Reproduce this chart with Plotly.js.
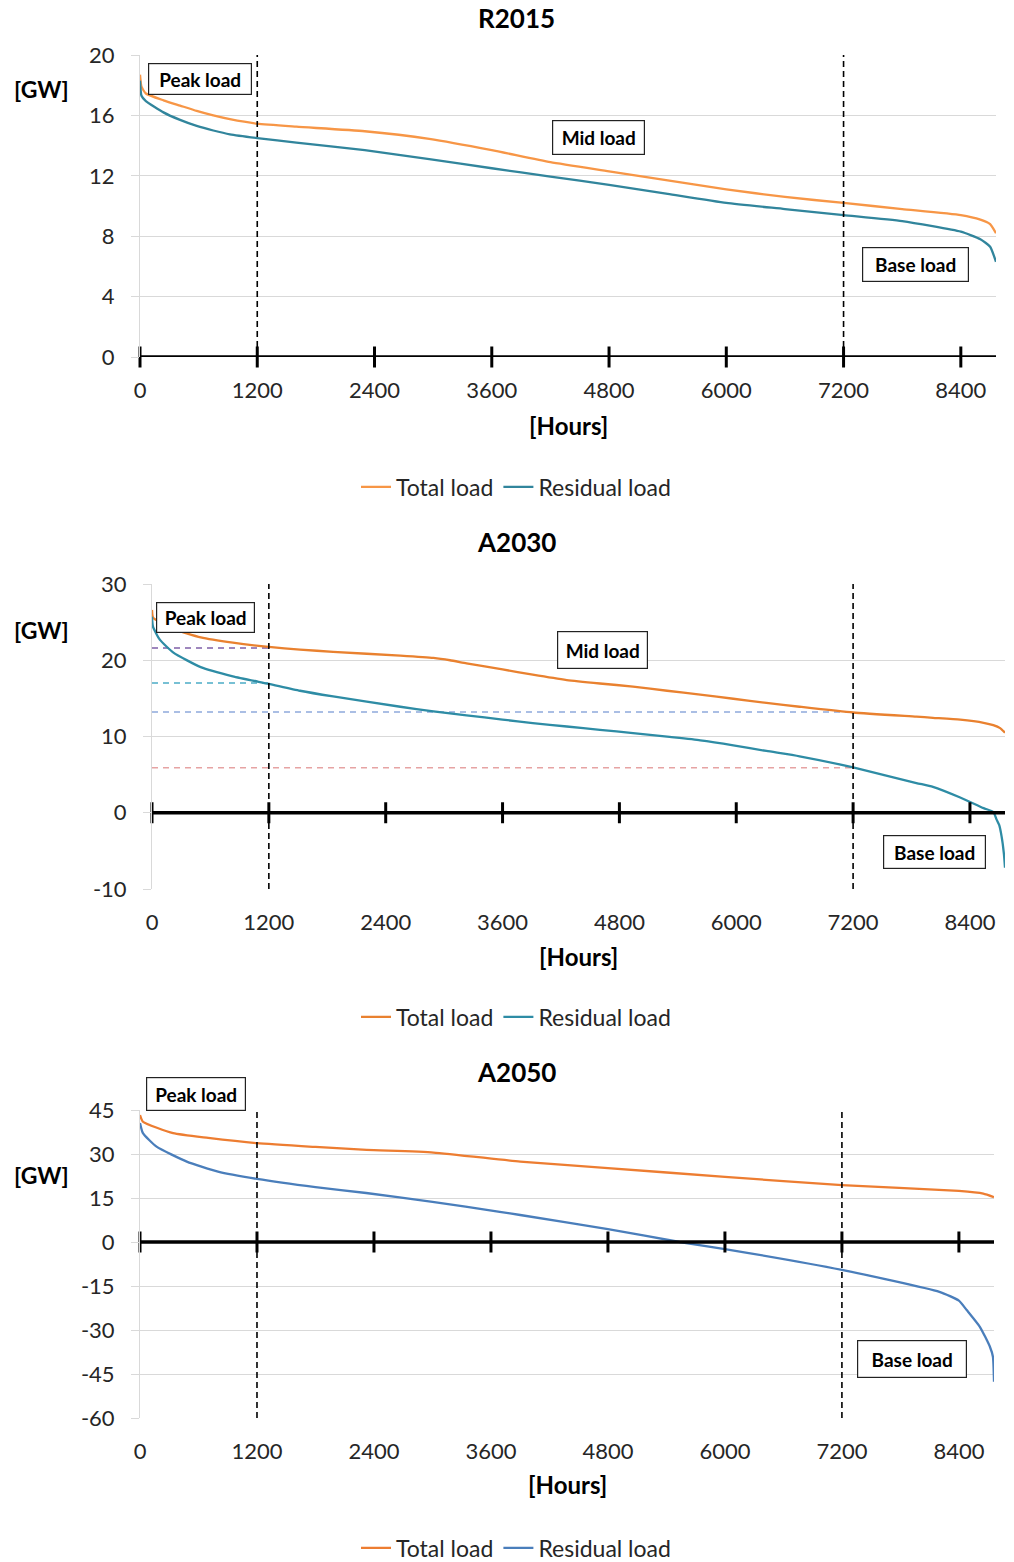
<!DOCTYPE html>
<html>
<head>
<meta charset="utf-8">
<script src="https://cdn.plot.ly/plotly-3.0.1.min.js"></script>
<style>html,body{margin:0;padding:0;background:#fff;overflow:hidden;}#chart{width:1014px;height:1562px;}</style>
</head>
<body>
<div id="chart"></div>
<script>
// ---------- DATA ----------
const hourTicks = [0, 1200, 2400, 3600, 4800, 6000, 7200, 8400];
const hourTickText = ["0", "1200", "2400", "3600", "4800", "6000", "7200", "8400"];
const zoneBounds = [1200, 7200];

// R2015
const r15YTicks = [0, 4, 8, 12, 16, 20];
const r15Hours = [0, 15, 60, 240, 410, 580, 750, 920, 1200, 1600, 2300, 2960, 3600, 4200, 4800, 5400, 6000, 6600, 7200, 7800, 8400, 8600, 8700, 8760];
const r15Total = [18.7, 17.9, 17.45, 17.0, 16.65, 16.3, 16.0, 15.75, 15.45, 15.25, 14.95, 14.45, 13.7, 12.9, 12.3, 11.7, 11.1, 10.6, 10.2, 9.8, 9.4, 9.1, 8.8, 8.2];
const r15Resid = [18.3, 17.3, 16.95, 16.2, 15.7, 15.3, 15.0, 14.75, 14.5, 14.2, 13.7, 13.1, 12.5, 11.95, 11.4, 10.8, 10.2, 9.8, 9.4, 9.0, 8.3, 7.8, 7.3, 6.3];

// A2030
const a30YTicks = [-10, 0, 10, 20, 30];
const a30TotalHours = [0, 10, 80, 220, 500, 830, 1200, 1520, 1860, 2550, 2890, 3060, 3230, 3600, 3910, 4260, 4600, 4940, 5290, 5630, 5970, 6310, 6650, 7200, 7850, 8020, 8300, 8540, 8640, 8710, 8760];
const a30Total = [26.6, 25.6, 25.0, 24.1, 23.0, 22.3, 21.75, 21.4, 21.1, 20.6, 20.3, 20.0, 19.6, 18.8, 18.1, 17.4, 16.95, 16.55, 16.0, 15.5, 14.95, 14.4, 13.9, 13.15, 12.6, 12.45, 12.2, 11.8, 11.5, 11.1, 10.5];
const a30ResidHours = [0, 10, 80, 220, 500, 830, 1200, 1520, 1860, 2550, 2890, 3230, 3600, 3910, 4260, 4600, 4940, 5290, 5630, 5970, 6310, 6650, 7200, 7850, 8020, 8300, 8540, 8640, 8674, 8700, 8725, 8748, 8760];
const a30Resid = [25.7, 24.4, 22.7, 21.0, 19.1, 17.9, 16.9, 16.0, 15.25, 13.9, 13.3, 12.78, 12.22, 11.75, 11.31, 10.88, 10.45, 9.97, 9.5, 8.85, 8.1, 7.4, 5.95, 3.9, 3.4, 2.0, 0.6, 0.1, -0.9, -1.6, -3.1, -5.3, -7.2];
const a30RefLevels = [21.6, 17.0, 13.2, 5.9];
const a30RefEnds = [1200, 1200, 7200, 7200];
const a30RefColors = ["#7F5FA8", "#4BACC6", "#8EA9DB", "#E6A3A3"];

// A2050
const a50YTicks = [-60, -45, -30, -15, 0, 15, 30, 45];
const a50TotalHours = [0, 30, 340, 700, 1200, 1800, 2325, 3010, 3900, 4800, 6000, 7200, 8400, 8650, 8760];
const a50Total = [43.3, 41.0, 37.1, 35.5, 33.7, 32.4, 31.4, 30.5, 27.4, 25.2, 22.2, 19.4, 17.4, 16.5, 15.3];
const a50ResidHours = [0, 30, 170, 480, 800, 1200, 1800, 2320, 3000, 3690, 3900, 4800, 5535, 6000, 7200, 8200, 8400, 8480, 8615, 8718, 8749, 8760];
const a50Resid = [40.6, 37.1, 32.5, 27.4, 24.0, 21.5, 18.7, 16.7, 13.7, 10.3, 9.2, 4.4, 0, -2.4, -9.5, -17, -20, -23.2, -28.9, -35.7, -39.1, -47.6];

// ---------- LAYOUT HELPERS ----------
const W = 1014, H = 1562;
const px = x => x / W;
const py = y => 1 - y / H;
const FONT = "Lato, 'Open Sans', sans-serif";
const GRID = "#d9d9d9";

const panels = [
  {name: "R2015", xd: [140, 996], yd: [357, 55], range: [0, 20], yticks: r15YTicks,
   total: [r15Hours, r15Total], resid: [r15Hours, r15Resid],
   colors: ["#F79646", "#31859C"], legendY: 487, titleY: 18, gwY: 89, hoursY: 425,
   boxes: [["Peak load", 200, 79, 104, 32], ["Mid load", 598, 137, 93, 35], ["Base load", 915, 264, 107, 35]]},
  {name: "A2030", xd: [152, 1005], yd: [889, 584], range: [-10, 30], yticks: a30YTicks,
   total: [a30TotalHours, a30Total], resid: [a30ResidHours, a30Resid],
   colors: ["#E9812F", "#2E8CA5"], legendY: 1017, titleY: 542, gwY: 630, hoursY: 957,
   boxes: [["Peak load", 205, 617, 99, 31], ["Mid load", 602, 650, 91, 38], ["Base load", 934, 852, 103, 34]]},
  {name: "A2050", xd: [140, 994], yd: [1418, 1110], range: [-60, 45], yticks: a50YTicks,
   total: [a50TotalHours, a50Total], resid: [a50ResidHours, a50Resid],
   colors: ["#ED7D31", "#4A7EBB"], legendY: 1548, titleY: 1072, gwY: 1175, hoursY: 1484,
   boxes: [["Peak load", 196, 1094, 100, 34], ["Base load", 912, 1359, 110, 38]]}
];

const data = [];
const layout = {
  width: W, height: H, margin: {l: 0, r: 0, t: 0, b: 0, autoexpand: false},
  paper_bgcolor: "#fff", plot_bgcolor: "#fff",
  font: {family: FONT, color: "#262626", size: 21},
  shapes: [], annotations: [], showlegend: true
};

panels.forEach((p, i) => {
  const n = i === 0 ? "" : String(i + 1);
  const xa = "x" + n, ya = "y" + n, lg = "legend" + n;

  layout["xaxis" + n] = {
    domain: [px(p.xd[0]), px(p.xd[1])], range: [0, 8760], anchor: ya,
    tickmode: "array", tickvals: hourTicks, ticktext: hourTickText,
    showgrid: false, zeroline: false, showline: false, ticks: "",
    tickfont: {size: 22, color: "#262626"}, ticklabelstandoff: 18, fixedrange: true
  };
  layout["yaxis" + n] = {
    domain: [py(p.yd[0]), py(p.yd[1])], range: p.range, anchor: xa,
    tickmode: "array", tickvals: p.yticks, ticktext: p.yticks.map(String),
    showgrid: true, gridcolor: GRID, gridwidth: 1,
    zeroline: false, showline: true, linecolor: GRID, linewidth: 1,
    ticks: "outside", ticklen: 8, tickcolor: GRID,
    tickfont: {size: 22, color: "#262626"}, ticklabelstandoff: 12, fixedrange: true
  };
  layout[lg] = {
    orientation: "h", x: px(516), xanchor: "center", y: py(p.legendY), yanchor: "middle",
    font: {size: 23, color: "#262626"}, bgcolor: "rgba(0,0,0,0)", itemwidth: 30, tracegroupgap: 0
  };

  if (p.name === "A2030") {
    a30RefLevels.forEach((lv, k) => {
      data.push({x: [0, a30RefEnds[k]], y: [lv, lv], xaxis: xa, yaxis: ya, mode: "lines",
        line: {color: a30RefColors[k], width: 1.5, dash: "6px,5px"}, showlegend: false, hoverinfo: "skip"});
    });
  }

  data.push({x: p.total[0], y: p.total[1], xaxis: xa, yaxis: ya, mode: "lines", name: "Total load",
    legend: lg, line: {color: p.colors[0], width: 2.3, shape: "spline", smoothing: 0.5}});
  data.push({x: p.resid[0], y: p.resid[1], xaxis: xa, yaxis: ya, mode: "lines", name: "Residual load",
    legend: lg, line: {color: p.colors[1], width: 2.3, shape: "spline", smoothing: 0.5}});

  data.push({x: hourTicks, y: hourTicks.map(() => 0), xaxis: xa, yaxis: ya, mode: "markers",
    marker: {symbol: "line-ns", size: 15, line: {color: "#000", width: 3}}, cliponaxis: false,
    showlegend: false, hoverinfo: "skip"});

  layout.shapes.push({type: "line", xref: xa + " domain", yref: ya, x0: 0, x1: 1, y0: 0, y1: 0,
    line: {color: "#000", width: 3.5}, layer: "above"});
  zoneBounds.forEach(b => {
    layout.shapes.push({type: "line", xref: xa, yref: ya + " domain", x0: b, x1: b, y0: 0, y1: 1,
      line: {color: "#000", width: 1.6, dash: "6px,4px"}, layer: "above"});
  });

  layout.annotations.push({text: "<b>" + p.name + "</b>", xref: "paper", yref: "paper",
    x: px(516), y: py(p.titleY), xanchor: "center", yanchor: "middle", showarrow: false,
    font: {size: 26, color: "#000"}});
  layout.annotations.push({text: "<b>[GW]</b>", xref: "paper", yref: "paper",
    x: px(41), y: py(p.gwY), xanchor: "center", yanchor: "middle", showarrow: false,
    font: {size: 23, color: "#000"}});
  layout.annotations.push({text: "<b>[Hours]</b>", xref: "paper", yref: "paper",
    x: px((p.xd[0] + p.xd[1]) / 2), y: py(p.hoursY), xanchor: "center", yanchor: "middle", showarrow: false,
    font: {size: 24, color: "#000"}});
  p.boxes.forEach(b => {
    layout.annotations.push({text: "<b>" + b[0] + "</b>", xref: "paper", yref: "paper",
      x: px(b[1]), y: py(b[2]), xanchor: "center", yanchor: "middle", showarrow: false,
      width: b[3] - 4, height: b[4] - 4, borderpad: 1, bordercolor: "#222", borderwidth: 1.2,
      bgcolor: "#fff", align: "center", valign: "middle", font: {size: 19, color: "#000"}});
  });
});

Plotly.newPlot("chart", data, layout, {staticPlot: true, displayModeBar: false});
</script>
</body>
</html>
